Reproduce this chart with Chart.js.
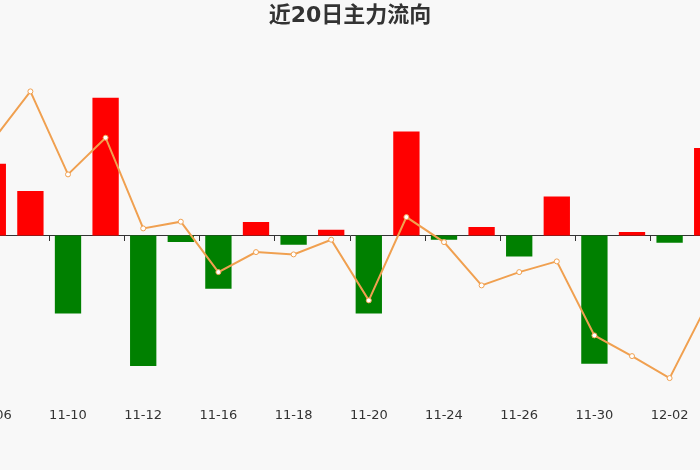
<!DOCTYPE html>
<html>
<head>
    <meta charset="utf-8">
    <title>近20日主力流向</title>
    <script src="https://cdn.jsdelivr.net/npm/chart.js"></script>
    <style>
        html, body { margin: 0; padding: 0; background: #f8f8f8; overflow: hidden; }
        #wrap { position: absolute; left: -31px; top: 0; width: 762px; height: 470px; }
    </style>
    <script>
        // 20 trading days
        const days = ['11-06', '11-09', '11-10', '11-11', '11-12', '11-13', '11-16', '11-17', '11-18', '11-19',
                      '11-20', '11-23', '11-24', '11-25', '11-26', '11-27', '11-30', '12-01', '12-02', '12-03'];
        // main money net flow (bars)
        const mainFlow = [71.7, 44.3, -78, 137.7, -130.7, -6.7, -53.3, 13.3, -9.3, 5.7,
                          -78, 104, -4.3, 8.3, -21, 39, -128.3, 3.3, -7.3, 87.3];
        // price line (right axis, hidden)
        const price = [252, 301, 218, 254.7, 164, 170.7, 120.3, 140.3, 138, 152.7,
                       92, 175.3, 150.3, 107, 120.3, 131, 57, 36.3, 14.3, 88];

        document.addEventListener('DOMContentLoaded', function() {
            const ctx = document.getElementById('flowChart').getContext('2d');
            new Chart(ctx, {
                type: 'bar',
                data: {
                    labels: days,
                    datasets: [
                        {
                            type: 'line',
                            label: '价格',
                            data: price,
                            yAxisID: 'y2',
                            xAxisID: 'x',
                            borderColor: '#f0a050',
                            borderWidth: 2,
                            tension: 0,
                            pointRadius: 2.5,
                            pointBorderWidth: 1,
                            pointBackgroundColor: '#ffffff',
                            pointBorderColor: '#f0a050',
                            order: 0
                        },
                        {
                            label: '主力净流入',
                            data: mainFlow,
                            yAxisID: 'y',
                            xAxisID: 'x',
                            backgroundColor: c => c.raw >= 0 ? '#ff0000' : '#008000',
                            barPercentage: 0.7,
                            categoryPercentage: 1,
                            order: 1
                        }
                    ]
                },
                options: {
                    responsive: false,
                    animation: false,
                    devicePixelRatio: 1,
                    layout: { padding: { top: 0, bottom: 47, left: 0, right: 0 } },
                    scales: {
                        x: {
                            position: 'bottom',
                            offset: true,
                            grid: { display: false, drawTicks: false, tickLength: 0 },
                            border: { display: false },
                            ticks: {
                                autoSkip: false,
                                maxRotation: 0,
                                padding: 0,
                                color: '#333',
                                font: { family: 'DejaVu Sans', size: 13 },
                                callback: function(value, index) {
                                    return index % 2 === 0 ? days[index] : '';
                                }
                            }
                        },
                        xz: {
                            type: 'category',
                            position: { y: 0 },
                            offset: true,
                            grid: {
                                display: true,
                                drawOnChartArea: false,
                                drawTicks: true,
                                tickLength: 5,
                                offset: true,
                                color: c => (c.index !== undefined && c.index % 2 === 0) ? '#333' : 'rgba(0,0,0,0)'
                            },
                            border: { display: true, color: '#333', width: 1 },
                            ticks: { display: false, autoSkip: false }
                        },
                        y: {
                            display: false,
                            min: -172,
                            max: 196
                        },
                        y2: {
                            display: false,
                            min: -15,
                            max: 353
                        }
                    },
                    plugins: {
                        legend: { display: false },
                        tooltip: { enabled: false },
                        title: {
                            display: true,
                            text: '近20日主力流向',
                            color: '#333',
                            font: { family: "'DejaVu Sans', 'Noto Sans CJK SC'", size: 22, weight: 'bold' },
                            padding: { top: 3, bottom: 10 }
                        }
                    }
                }
            });
        });
    </script>
</head>
<body>
<div id="wrap"><canvas id="flowChart" width="762" height="470"></canvas></div>
</body>
</html>
